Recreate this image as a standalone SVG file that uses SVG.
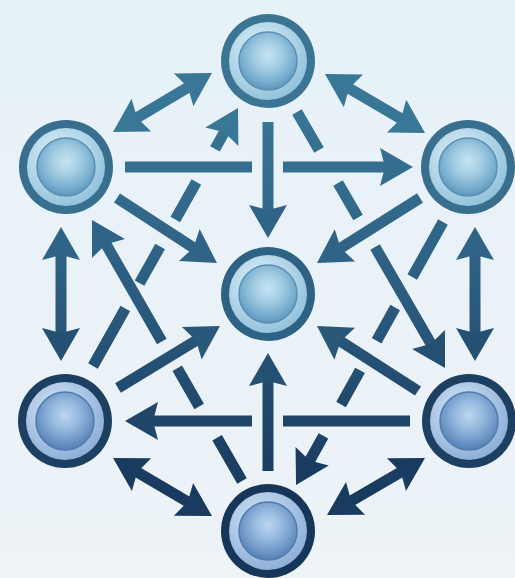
<svg xmlns="http://www.w3.org/2000/svg" width="515" height="578" viewBox="0 0 515 578">
<style>
.c{fill:none;stroke:url(#gs);stroke-width:11;stroke-linecap:butt}
.ring1{fill:url(#lr1)}
.ball1{fill:url(#bl1);stroke:#5b90b4;stroke-width:1.5}
.ring2{fill:url(#lr2)}
.ball2{fill:url(#bl2);stroke:#4f7cae;stroke-width:1.5}
</style>
<defs>
<linearGradient id="bg" x1="0" y1="0" x2="0" y2="1">
<stop offset="0" stop-color="#e6f1f8"/><stop offset="1" stop-color="#edf3f7"/>
</linearGradient>
<linearGradient id="gs" gradientUnits="userSpaceOnUse" x1="0" y1="60" x2="0" y2="540">
<stop offset="0" stop-color="#3c7b9b"/><stop offset="0.29" stop-color="#336a8b"/><stop offset="0.5" stop-color="#2b5b7e"/><stop offset="0.75" stop-color="#1f4669"/><stop offset="1" stop-color="#153258"/>
</linearGradient>
<radialGradient id="lr1" cx="0.4" cy="0.35" r="0.7">
<stop offset="0" stop-color="#e0f2fa"/><stop offset="1" stop-color="#8fc0da"/>
</radialGradient>
<radialGradient id="bl1" cx="0.5" cy="0.4" r="0.6">
<stop offset="0" stop-color="#c6e4f2"/><stop offset="0.4" stop-color="#a4cde2"/><stop offset="0.75" stop-color="#7ab0d0"/><stop offset="1" stop-color="#5f95bb"/>
</radialGradient>
<radialGradient id="lr2" cx="0.4" cy="0.35" r="0.7">
<stop offset="0" stop-color="#d6e6f6"/><stop offset="1" stop-color="#8aacd6"/>
</radialGradient>
<radialGradient id="bl2" cx="0.5" cy="0.4" r="0.6">
<stop offset="0" stop-color="#bcd6ee"/><stop offset="0.4" stop-color="#96badf"/><stop offset="0.75" stop-color="#7098c8"/><stop offset="1" stop-color="#5580b4"/>
</radialGradient>
<path id="ah" d="M20,0 L-13,-19 L-8,0 L-13,19 Z"/>
<marker id="mA" markerUnits="userSpaceOnUse" viewBox="-16 -21 38 42" markerWidth="38" markerHeight="42" refX="0" refY="0" orient="auto-start-reverse"><use href="#ah" fill="#397797"/></marker>
<marker id="mB" markerUnits="userSpaceOnUse" viewBox="-16 -21 38 42" markerWidth="38" markerHeight="42" refX="0" refY="0" orient="auto-start-reverse"><use href="#ah" fill="#356e8f"/></marker>
<marker id="mC" markerUnits="userSpaceOnUse" viewBox="-16 -21 38 42" markerWidth="38" markerHeight="42" refX="0" refY="0" orient="auto-start-reverse"><use href="#ah" fill="#306487"/></marker>
<marker id="mD" markerUnits="userSpaceOnUse" viewBox="-16 -21 38 42" markerWidth="38" markerHeight="42" refX="0" refY="0" orient="auto-start-reverse"><use href="#ah" fill="#2a5879"/></marker>
<marker id="mE" markerUnits="userSpaceOnUse" viewBox="-16 -21 38 42" markerWidth="38" markerHeight="42" refX="0" refY="0" orient="auto-start-reverse"><use href="#ah" fill="#245071"/></marker>
<marker id="mF" markerUnits="userSpaceOnUse" viewBox="-16 -21 38 42" markerWidth="38" markerHeight="42" refX="0" refY="0" orient="auto-start-reverse"><use href="#ah" fill="#1f4669"/></marker>
<marker id="mG" markerUnits="userSpaceOnUse" viewBox="-16 -21 38 42" markerWidth="38" markerHeight="42" refX="0" refY="0" orient="auto-start-reverse"><use href="#ah" fill="#193b5f"/></marker>
</defs>
<rect width="515" height="578" fill="url(#bg)"/>
<g id="connectors">
<path class="c" d="M130.2,121.8 L194.8,83.2" marker-start="url(#mA)" marker-end="url(#mA)"/>
<path class="c" d="M342.2,84.2 L407.8,122.8" marker-start="url(#mA)" marker-end="url(#mA)"/>
<path class="c" d="M125,167 H252 M283,167 H393" marker-end="url(#mB)"/>
<path class="c" d="M268,122 V218" marker-end="url(#mC)"/>
<path class="c" d="M117,198 L200.2,252.1" marker-end="url(#mC)"/>
<path class="c" d="M420,198 L333.9,252.3" marker-end="url(#mC)"/>
<path class="c" d="M93,366 L228.2,125.4" stroke-dasharray="66 29 42 31 43 38 100" marker-end="url(#mA)"/>
<path class="c" d="M297,112 L435,350.7" stroke-dasharray="44 38 40 34 300" marker-end="url(#mE)"/>
<path class="c" d="M61,247 V341" marker-start="url(#mC)" marker-end="url(#mE)"/>
<path class="c" d="M475,247 V341" marker-start="url(#mC)" marker-end="url(#mE)"/>
<path class="c" d="M242,481 L102,237.3" stroke-dasharray="50 36 44 31 200" marker-end="url(#mC)"/>
<path class="c" d="M443,222 L305.8,467.5" stroke-dasharray="63 35 38 34 39 36 100" marker-end="url(#mG)"/>
<path class="c" d="M118,388 L202.9,336.4" marker-end="url(#mD)"/>
<path class="c" d="M418,391 L333.8,336.8" marker-end="url(#mD)"/>
<path class="c" d="M410,421 H283 M252,421 H145" marker-end="url(#mF)"/>
<path class="c" d="M268,471 V373" marker-end="url(#mE)"/>
<path class="c" d="M130.3,468.1 L194.7,505.9" marker-start="url(#mG)" marker-end="url(#mG)"/>
<path class="c" d="M344.3,504.9 L407.7,468.1" marker-start="url(#mG)" marker-end="url(#mG)"/>
</g>
<g id="node-top"><circle cx="268" cy="61" r="47" fill="#3c7594"/><circle class="ring1" cx="268" cy="61" r="39"/><circle class="ball1" cx="268" cy="61" r="29"/></g>
<g id="node-left-upper"><circle cx="66" cy="167" r="47" fill="#386f8e"/><circle class="ring1" cx="66" cy="167" r="39"/><circle class="ball1" cx="66" cy="167" r="29"/></g>
<g id="node-right-upper"><circle cx="468" cy="167" r="47" fill="#386f8e"/><circle class="ring1" cx="468" cy="167" r="39"/><circle class="ball1" cx="468" cy="167" r="29"/></g>
<g id="node-center"><circle cx="268" cy="294" r="47" fill="#2e6284"/><circle class="ring1" cx="268" cy="294" r="39"/><circle class="ball1" cx="268" cy="294" r="29"/></g>
<g id="node-left-lower"><circle cx="65" cy="421" r="47" fill="#1d3f62"/><circle class="ring2" cx="65" cy="421" r="39"/><circle class="ball2" cx="65" cy="421" r="29"/></g>
<g id="node-right-lower"><circle cx="469" cy="421" r="47" fill="#1d3f62"/><circle class="ring2" cx="469" cy="421" r="39"/><circle class="ball2" cx="469" cy="421" r="29"/></g>
<g id="node-bottom"><circle cx="268" cy="531" r="47" fill="#173559"/><circle class="ring2" cx="268" cy="531" r="39"/><circle class="ball2" cx="268" cy="531" r="29"/></g>
</svg>
